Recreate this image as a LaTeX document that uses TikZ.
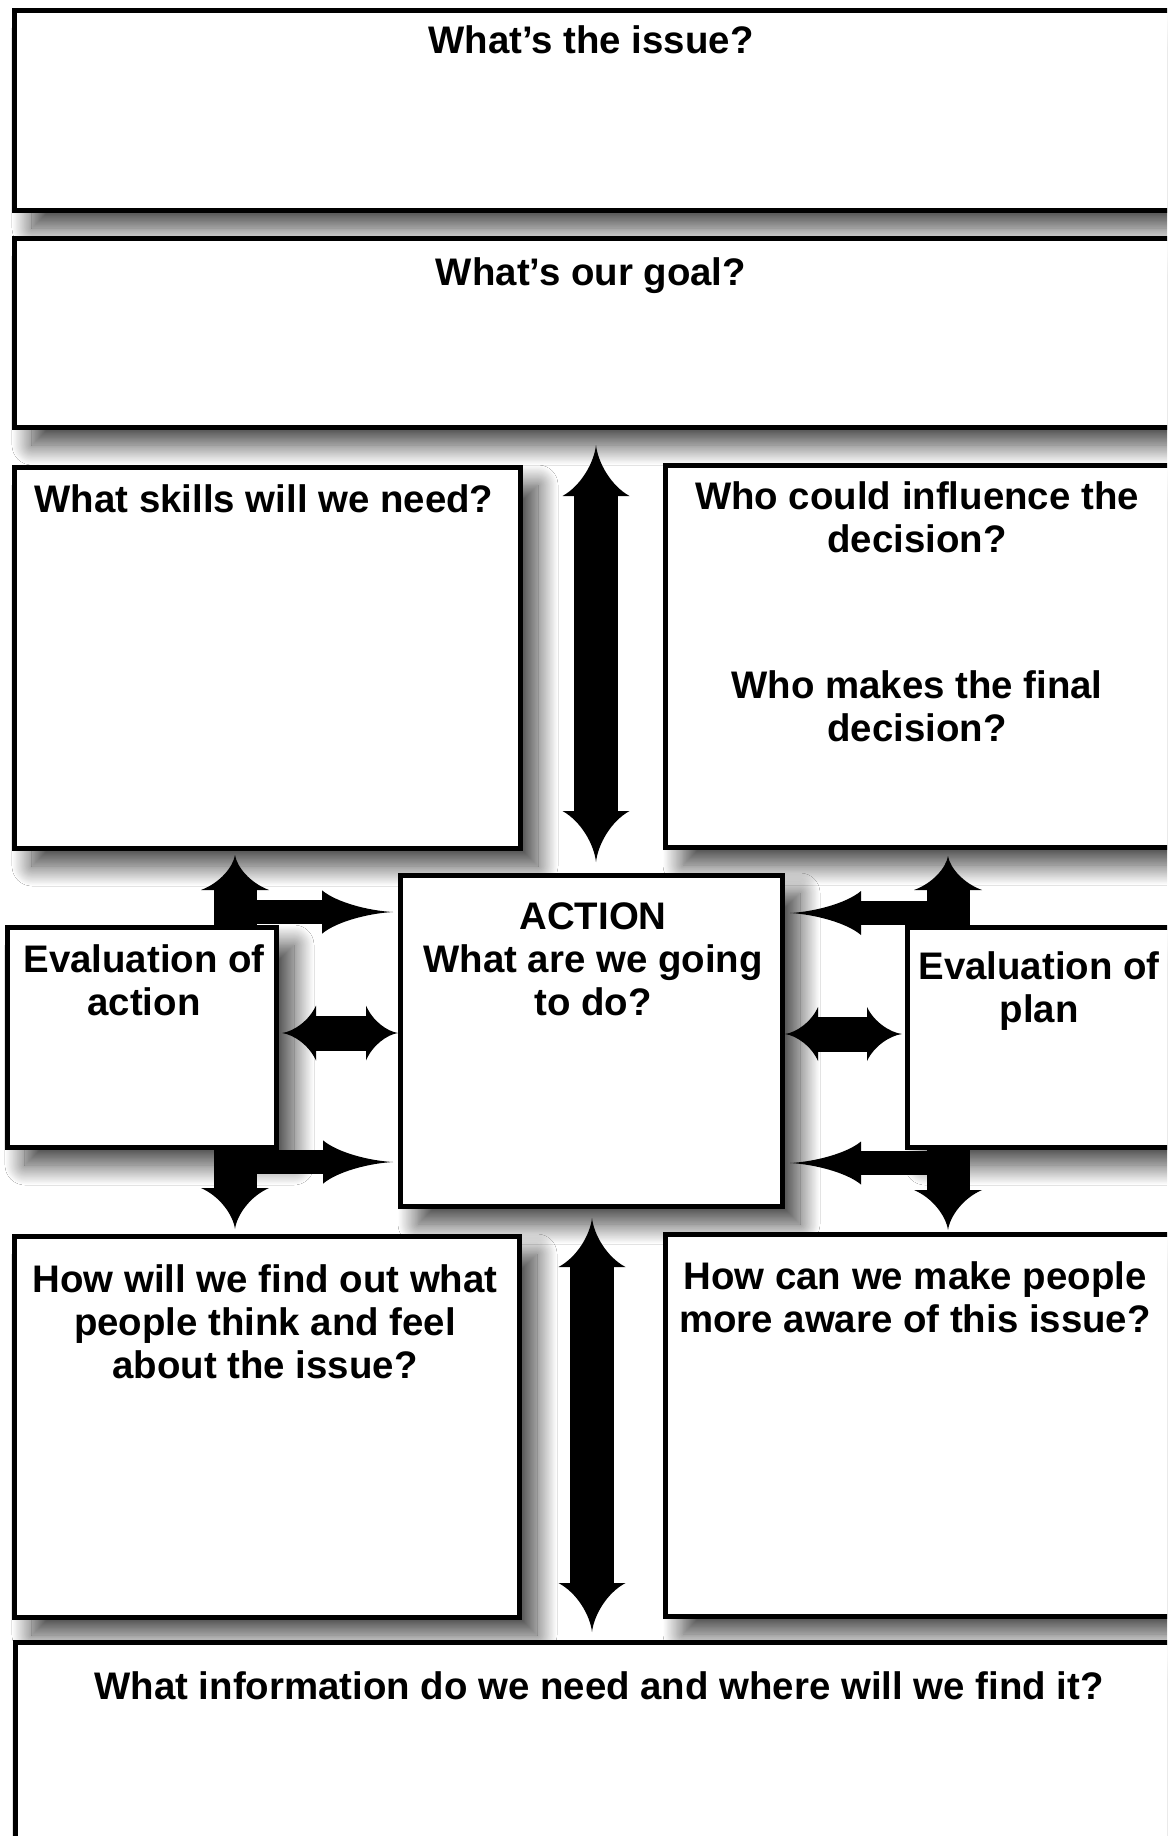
\documentclass[tikz,border=0pt]{standalone}
\usepackage{fontspec}
\setmainfont{Liberation Sans}
\usetikzlibrary{shadows.blur}

\newcommand{\qfont}{\fontsize{19.2}{21.5}\selectfont\bfseries}

\tikzstyle{box} = [draw, rectangle, line width=2.5pt, fill=white,
  blur shadow={shadow xshift=9pt, shadow yshift=-9pt, shadow blur radius=10pt,
    shadow blur steps=25, shadow opacity=75}]
\tikzstyle{ask} = [font=\qfont, align=center, anchor=base, inner sep=0pt]
\tikzstyle{stem} = [line width=21.5pt]
\tikzstyle{bar} = [line width=12pt]
\tikzstyle{twin} = [line width=17.5pt]

\tikzset{pics/tip/.style 2 args={code={
  \fill (0,0) .. controls (-0.35*#1,0.06*#2) and (-0.8*#1,0.45*#2) .. (-#1,#2)
    -- (-#1,-#2) .. controls (-0.8*#1,-0.45*#2) and (-0.35*#1,-0.06*#2) .. (0,0) -- cycle;
}}}

\begin{document}
\begin{tikzpicture}[x=0.5pt, y=-0.5pt]
  \useasboundingbox (0,0) rectangle (1167,1836);
  \clip (0,0) rectangle (1167,1836);
  \fill[white] (0,0) rectangle (1167,1836);

  % boxes
  \node[box, minimum width=579pt, minimum height=100pt] (issue) at (593,110) {};
  \node[box, minimum width=579pt, minimum height=94.5pt] (goal) at (593,332.5) {};
  \node[box, minimum width=253pt, minimum height=190.5pt] (skills) at (267,657.5) {};
  \node[box, minimum width=253.5pt, minimum height=191pt] (who) at (918.5,656) {};
  \node[box, minimum width=134.5pt, minimum height=110pt] (evalA) at (141.5,1037) {};
  \node[box, minimum width=191pt, minimum height=165.5pt] (action) at (591,1040.5) {};
  \node[box, minimum width=132.5pt, minimum height=110pt] (evalP) at (1039.5,1037) {};
  \node[box, minimum width=252.5pt, minimum height=190.5pt] (findout) at (266.5,1426.5) {};
  \node[box, minimum width=253.5pt, minimum height=191pt] (aware) at (918.5,1425) {};
  \node[box, minimum width=584pt, minimum height=129pt] (info) at (599,1771) {};

  % questions (base = last line)
  \node[ask] (issueq) at (591,53) {What's the issue?};
  \node[ask] (goalq) at (591,285) {What's our goal?};
  \node[ask] (skillsq) at (264,512) {What skills will we need?};
  \node[ask] (whoq) at (917,552) {Who could influence the\\decision?};
  \node[ask] (finalq) at (917,741) {Who makes the final\\decision?};
  \node[ask] (evalAq) at (144,1015) {Evaluation of\\action};
  \node[ask] (actionq) at (593,1015) {ACTION\\What are we going\\to do?};
  \node[ask] (evalPq) at (1039,1022) {Evaluation of\\plan};
  \node[ask] (findq) at (265,1378) {How will we find out what\\people think and feel\\about the issue?};
  \node[ask] (awareq) at (915,1332) {How can we make people\\more aware of this issue?};
  \node[ask] (infoq) at (599,1699) {What information do we need and where will we find it?};

  % arrow tips
  \coordinate (upA) at (596,445);
  \coordinate (dnA) at (596,862);
  \coordinate (upB) at (592,1218);
  \coordinate (dnB) at (592,1632);
  \coordinate (lu) at (235,855);
  \coordinate (lur) at (393,912);
  \coordinate (ld) at (235,1229);
  \coordinate (ldr) at (393,1162);
  \coordinate (lml) at (282,1033);
  \coordinate (lmr) at (398,1033);
  \coordinate (ru) at (948,856);
  \coordinate (rul) at (790,913);
  \coordinate (rd) at (948,1230);
  \coordinate (rdl) at (790,1163);
  \coordinate (rml) at (785,1034);
  \coordinate (rmr) at (902,1034);

  % goal <-> action <-> info
  \draw[stem, line width=22pt, shorten <=25pt, shorten >=25pt] (upA) -- (dnA);
  \pic[rotate=90] at (upA) {tip={51}{33.5}};
  \pic[rotate=-90] at (dnA) {tip={51}{33.5}};
  \draw[stem, line width=22pt, shorten <=24pt, shorten >=24pt] (upB) -- (dnB);
  \pic[rotate=90] at (upB) {tip={49}{33.5}};
  \pic[rotate=-90] at (dnB) {tip={49}{33.5}};

  % evaluation of action
  \draw[stem, shorten >=17pt] (evalA.north -| lu) -- (lu);
  \pic[rotate=90] at (lu) {tip={35}{34}};
  \draw[bar, shorten >=35pt] (lu |- lur) -- (lur);
  \pic at (lur) {tip={71}{21.7}};
  \draw[stem, shorten >=20pt] (evalA.south -| ld) -- (ld);
  \pic[rotate=-90] at (ld) {tip={41}{34}};
  \draw[bar, shorten >=35pt] (ld |- ldr) -- (ldr);
  \pic at (ldr) {tip={70}{21.7}};
  \draw[twin, shorten <=16pt, shorten >=15.5pt] (lml) -- (lmr);
  \pic[rotate=180] at (lml) {tip={34}{27.5}};
  \pic at (lmr) {tip={32}{27.5}};

  % evaluation of plan
  \draw[stem, shorten >=17pt] (evalP.north -| ru) -- (ru);
  \pic[rotate=90] at (ru) {tip={34}{34}};
  \draw[bar, shorten >=35pt] (ru |- rul) -- (rul);
  \pic[rotate=180] at (rul) {tip={71}{22}};
  \draw[stem, shorten >=20pt] (evalP.south -| rd) -- (rd);
  \pic[rotate=-90] at (rd) {tip={40}{34}};
  \draw[bar, shorten >=35pt] (rd |- rdl) -- (rdl);
  \pic[rotate=180] at (rdl) {tip={71}{21.5}};
  \draw[twin, shorten <=16pt, shorten >=17pt] (rml) -- (rmr);
  \pic[rotate=180] at (rml) {tip={33}{27}};
  \pic at (rmr) {tip={35}{27}};
\end{tikzpicture}
\end{document}
